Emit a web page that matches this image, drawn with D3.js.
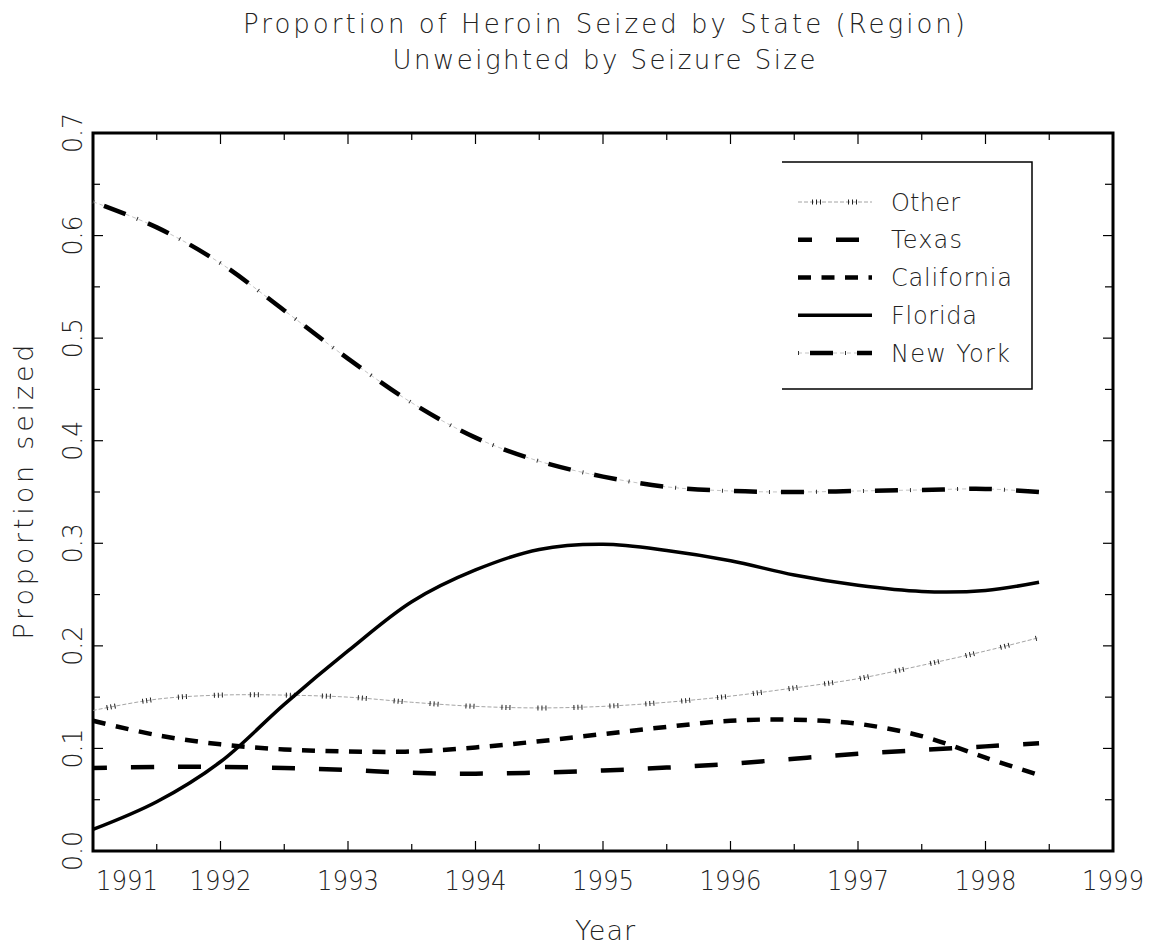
<!DOCTYPE html>
<html>
<head>
<meta charset="utf-8">
<script src="https://cdn.jsdelivr.net/npm/d3@7"></script>
<style>
  body { margin: 0; background: #fff; }
  svg text { font-family: "DejaVu Sans", "Liberation Sans", sans-serif; font-weight: 200; fill: #222; }
</style>
</head>
<body>
<div id="chart"></div>
<script>
// values, half-year steps, last point ~ mid 1998
const years = [1991, 1991.5, 1992, 1992.5, 1993, 1993.5, 1994, 1994.5, 1995, 1995.5, 1996, 1996.5, 1997, 1997.5, 1998, 1998.42]
const other = [0.137, 0.148, 0.152, 0.152, 0.150, 0.145, 0.141, 0.1395, 0.141, 0.145, 0.151, 0.159, 0.168, 0.181, 0.195, 0.208]
const texas = [0.081, 0.082, 0.082, 0.081, 0.079, 0.0762, 0.0754, 0.0765, 0.0785, 0.0813, 0.085, 0.090, 0.0947, 0.0985, 0.102, 0.105]
const california = [0.127, 0.113, 0.104, 0.099, 0.097, 0.097, 0.101, 0.107, 0.114, 0.121, 0.127, 0.128, 0.124, 0.112, 0.091, 0.074]
const florida = [0.021, 0.048, 0.087, 0.143, 0.195, 0.243, 0.274, 0.294, 0.299, 0.293, 0.283, 0.269, 0.259, 0.253, 0.254, 0.262]
const newYork = [0.633, 0.608, 0.573, 0.527, 0.480, 0.437, 0.403, 0.380, 0.365, 0.355, 0.351, 0.350, 0.351, 0.352, 0.353, 0.350]

const seriesNames = ["Other", "Texas", "California", "Florida", "New York"]
const seriesValues = [other, texas, california, florida, newYork]

const xTicks = [1991, 1992, 1993, 1994, 1995, 1996, 1997, 1998, 1999]
const yTicks = [0, 0.1, 0.2, 0.3, 0.4, 0.5, 0.6, 0.7]
const titleLines = ["Proportion of Heroin Seized by State (Region)", "Unweighted by Seizure Size"]

// line looks, drawn as layered strokes
const looks = {
    "Other": [
        {stroke: "#9a9a9a", width: 0.9, dash: "4,2"},
        {stroke: "#222", width: 5, dash: "1,3,1,3,1,27", offset: 22}
    ],
    "Texas": [{stroke: "#000", width: 4.5, dash: "23,24", offset: 9}],
    "California": [{stroke: "#000", width: 4.5, dash: "13,10.5"}],
    "Florida": [{stroke: "#000", width: 3.5}],
    "New York": [
        {stroke: "#b5b5b5", width: 0.8, dash: "4,3"},
        {stroke: "#000", width: 4.5, dash: "23,24", offset: 35},
        {stroke: "#333", width: 4, dash: "1,46"}
    ]
}

const width = 1151, height = 948
const plotLeft = 93, plotRight = 1113, plotTop = 133, plotBottom = 851

const svg = d3.select("#chart").append("svg")
    .attr("width", width)
    .attr("height", height)

const x = d3.scaleLinear().domain([1991, 1999]).range([plotLeft, plotRight])
const y = d3.scaleLinear().domain([0, 0.7]).range([plotBottom, plotTop])

// title
svg.selectAll(".title")
    .data(titleLines)
    .enter().append("text")
    .attr("class", "title")
    .attr("x", 604)
    .attr("y", (d, i) => 33 + i * 36)
    .attr("text-anchor", "middle")
    .attr("font-size", 26)
    .attr("textLength", (d, i) => i == 0 ? 722 : 423)
    .attr("lengthAdjust", "spacing")
    .text(d => d)

// ticks, inward on all four sides
const halfYears = d3.range(1991, 1999.01, 0.5)
const twentieths = d3.range(0, 0.701, 0.05)
const tickG = svg.append("g").attr("stroke", "#000").attr("stroke-width", 1.2)
halfYears.forEach(v => {
    const major = Math.abs(v - Math.round(v)) < 1e-6
    tickG.append("line").attr("x1", x(v)).attr("x2", x(v)).attr("y1", plotBottom).attr("y2", plotBottom - (major ? 10 : 7))
    tickG.append("line").attr("x1", x(v)).attr("x2", x(v)).attr("y1", plotTop).attr("y2", plotTop + (major ? 11 : 7))
})
twentieths.forEach(v => {
    const major = Math.abs(v * 10 - Math.round(v * 10)) < 1e-6
    tickG.append("line").attr("x1", plotLeft).attr("x2", plotLeft + (major ? 10 : 7)).attr("y1", y(v)).attr("y2", y(v))
    tickG.append("line").attr("x1", plotRight).attr("x2", plotRight - (major ? 10 : 8)).attr("y1", y(v)).attr("y2", y(v))
})

// frame
svg.append("rect")
    .attr("x", plotLeft).attr("y", plotTop)
    .attr("width", plotRight - plotLeft).attr("height", plotBottom - plotTop)
    .attr("fill", "none")
    .attr("stroke", "#000")
    .attr("stroke-width", 3)

// x tick labels
svg.selectAll(".xlab")
    .data(xTicks)
    .enter().append("text")
    .attr("class", "xlab")
    .attr("x", d => d == 1991 ? x(d) + 3 : x(d))
    .attr("y", 890)
    .attr("text-anchor", d => d == 1991 ? "start" : "middle")
    .attr("font-size", 27)
    .attr("textLength", 62)
    .attr("lengthAdjust", "spacingAndGlyphs")
    .text(d => d)

// y tick labels, turned
svg.selectAll(".ylab")
    .data(yTicks)
    .enter().append("text")
    .attr("class", "ylab")
    .attr("transform", d => `translate(82,${y(d)}) rotate(-90)`)
    .attr("text-anchor", "middle")
    .attr("font-size", 27)
    .attr("textLength", 40)
    .attr("lengthAdjust", "spacingAndGlyphs")
    .text(d => d.toFixed(1))

// axis titles
svg.append("text")
    .attr("x", 605).attr("y", 940)
    .attr("text-anchor", "middle")
    .attr("font-size", 27)
    .attr("textLength", 60)
    .attr("lengthAdjust", "spacing")
    .text("Year")

svg.append("text")
    .attr("transform", `translate(33,${(plotTop + plotBottom) / 2}) rotate(-90)`)
    .attr("text-anchor", "middle")
    .attr("font-size", 27)
    .attr("textLength", 295)
    .attr("lengthAdjust", "spacing")
    .text("Proportion seized")

// series
const line = d3.line()
    .x(d => x(d[0]))
    .y(d => y(d[1]))
    .curve(d3.curveCatmullRom.alpha(0.5))

function drawLook(g, dAttr, name) {
    looks[name].forEach(s => {
        g.append("path")
            .attr("d", dAttr)
            .attr("fill", "none")
            .attr("stroke", s.stroke)
            .attr("stroke-width", s.width)
            .attr("stroke-dasharray", s.dash || null)
            .attr("stroke-dashoffset", s.offset || 0)
    })
}

const plotG = svg.append("g")
seriesNames.forEach((name, i) => {
    const pts = years.map((yr, j) => [yr, seriesValues[i][j]])
    drawLook(plotG, line(pts), name)
})

// legend
const legG = svg.append("g")
legG.append("path")
    .attr("d", "M782,162H1032V389H782")
    .attr("fill", "none")
    .attr("stroke", "#000")
    .attr("stroke-width", 1.5)

const legY = d3.scalePoint().domain(seriesNames).range([202, 353])
const legWidths = {"Other": 69, "Texas": 71, "California": 121, "Florida": 86, "New York": 119}
seriesNames.forEach(name => {
    const yy = legY(name)
    drawLook(legG, `M798,${yy}H872`, name)
    legG.append("text")
        .attr("x", 891)
        .attr("y", yy + 8.5)
        .attr("font-size", 24)
        .attr("textLength", legWidths[name])
        .attr("lengthAdjust", "spacing")
        .text(name)
})
</script>
</body>
</html>
